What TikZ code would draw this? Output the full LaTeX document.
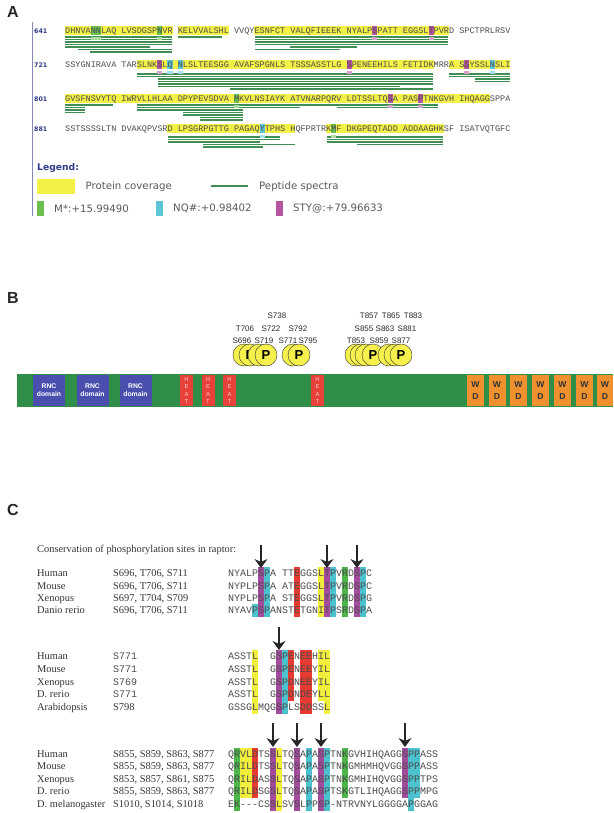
\documentclass[tikz,border=0pt]{standalone}
\usepackage{fontspec}
\setmainfont{Liberation Serif}
\setmonofont{Liberation Mono}
\newfontfamily\verdfont{DejaVu Sans}
\newfontfamily\arialfont{Liberation Sans}
\usetikzlibrary{arrows.meta,positioning}
\definecolor{ccov}{HTML}{F3F047}
\definecolor{cpep}{HTML}{3F8F55}
\definecolor{cmodM}{HTML}{6CBF4E}
\definecolor{cmodNQ}{HTML}{5CC6D6}
\definecolor{cmodS}{HTML}{B4559E}
\definecolor{clnum}{HTML}{2E3A87}
\definecolor{cbar}{HTML}{2F8E48}
\definecolor{crnc}{HTML}{4A4FAE}
\definecolor{cheat}{HTML}{E8413A}
\definecolor{cwd}{HTML}{F0912F}
\definecolor{cphos}{HTML}{F5F04C}
\definecolor{calS}{HTML}{A34C9E}
\definecolor{calP}{HTML}{4DC2CF}
\definecolor{calE}{HTML}{E53B30}
\definecolor{calL}{HTML}{F1EE3C}
\definecolor{calK}{HTML}{4DB54A}
\tikzset{
  panel/.style={font=\arialfont\bfseries\fontsize{16}{16}\selectfont, anchor=west, inner sep=0pt, text=black!85},
  seqrow/.style={font=\ttfamily\fontsize{8.53}{10}\selectfont, text=black!70, anchor=base west, inner sep=0pt},
  lnum/.style={font=\verdfont\bfseries\fontsize{6.3}{7}\selectfont, text=clnum, anchor=base west, inner sep=0pt},
  pepline/.style={cpep, line width=1.5pt},
  legtxt/.style={font=\verdfont\fontsize{10.2}{12}\selectfont, text=black!65, anchor=west, inner sep=0pt},
  legbox/.style={inner sep=0pt, minimum width=7pt, minimum height=15pt},
  dombox/.style={inner sep=0pt, minimum height=31pt, align=center},
  rncbox/.style={dombox, fill=crnc, text=white, minimum width=32pt, font=\arialfont\bfseries\fontsize{6.8}{8}\selectfont},
  heatbox/.style={dombox, fill=cheat, text=white!80!red, minimum width=13pt, font=\arialfont\fontsize{5.8}{7.6}\selectfont},
  wdbox/.style={dombox, fill=cwd, text=black!80, minimum width=17pt, font=\arialfont\bfseries\fontsize{8.6}{12}\selectfont},
  phos/.style={circle, fill=cphos, draw=black!80, line width=0.4pt, minimum size=22pt, inner sep=0pt, font=\arialfont\bfseries\fontsize{13}{13}\selectfont},
  stem/.style={draw=black!55, line width=0.4pt, double=white, double distance=1.3pt},
  site/.style={font=\arialfont\fontsize{8}{9}\selectfont, text=black!85, inner sep=0pt},
  spc/.style={font=\fontsize{10.4}{12}\selectfont, text=black!80, anchor=base west, inner sep=0pt},
  alnseq/.style={font=\ttfamily\fontsize{10}{12}\selectfont, text=black!70, anchor=base west, inner sep=0pt},
  downarr/.style={-{Stealth[length=9pt, width=13pt, inset=3pt]}, line width=1.3pt, black!85},
}
\begin{document}
\begin{tikzpicture}[x=1pt,y=-1pt]
\useasboundingbox (0,0) rectangle (613,813);

% ---------- panel A: coverage map ----------
\node[panel] (labA) at (7,12) {A};
\draw[clnum!60, line width=0.6pt] (32,22) -- (32,216);

% protein coverage
\foreach \y/\pa/\pb in {34/0/20, 34/22/31, 34/37/74, 68/14/71, 68/75/86,
                        102/0/82, 132/20/44, 132/51/73}
  \fill[ccov] ({65+\pa*5.12},{\y-7.5}) rectangle ({65+(\pb+1)*5.12},{\y+1.5});
% modified residues
\foreach \y/\p/\c in {34/5/cmodM, 34/6/cmodM, 34/18/cmodM, 34/60/cmodS, 34/71/cmodS,
                      68/18/cmodS, 68/20/cmodNQ, 68/22/cmodNQ, 68/55/cmodS, 68/78/cmodS, 68/83/cmodNQ,
                      102/33/cmodM, 102/63/cmodS, 102/69/cmodS, 132/38/cmodNQ, 132/52/cmodM}
  \fill[\c] ({65+\p*5.12},{\y-7.5}) rectangle ({65+(\p+1)*5.12},{\y+1.5});

% peptide spectra
\foreach \xa/\xb/\y in {65/172/37, 65/172/39.5, 65/172/42, 65/172/44.5, 65/150/47, 78/172/49.5,
    90/172/52, 178/222/37, 255/448/37, 255/448/39.5, 255/448/42, 255/448/44.5,
    290/357/47, 255/340/49.5,
    137/433/74, 137/433/76.5, 158/433/79, 158/433/81.5, 158/433/84, 158/400/86.5,
    230/433/89, 449/510/74, 449/510/76.5, 475/510/79, 475/510/81.5,
    65/85/105, 65/85/107.5, 65/85/110, 65/85/112.5, 85/113/105, 137/300/105,
    137/300/107.5, 137/243/110, 183/243/112.5, 183/243/115, 200/243/117.5,
    200/243/120, 300/438/105, 337/438/107.5,
    168/280/137, 168/280/139.5, 168/260/142, 203/295/144.5, 203/263/147,
    327/443/137, 327/443/139.5, 327/443/142, 357/443/144.5}
  \draw[pepline] (\xa,\y) -- (\xb,\y);
\foreach \y/\p/\c in {34/5/cmodM, 34/6/cmodM, 34/18/cmodM, 34/60/cmodS, 34/71/cmodS,
                      68/18/cmodS, 68/20/cmodNQ, 68/22/cmodNQ, 68/55/cmodS, 68/78/cmodS, 68/83/cmodNQ,
                      102/33/cmodM, 102/63/cmodS, 102/69/cmodS, 132/38/cmodNQ, 132/52/cmodM}
  \fill[\c!55] ({65+\p*5.12},{\y+3.5}) rectangle ({65+(\p+1)*5.12},{\y+6});

\node[lnum] (n641) at (34,34) {641};
\node[seqrow] (s641) at (65,34) {DHNVANNLAQ LVSDGSPNVR KELVVALSHL VVQYESNFCT VALQFIEEEK NYALPSPATT EGGSLTPVRD SPCTPRLRSV};
\node[lnum] (n721) at (34,68) {721};
\node[seqrow] (s721) at (65,68) {SSYGNIRAVA TARSLNKSLQ NLSLTEESGG AVAFSPGNLS TSSSASSTLG SPENEEHILS FETIDKMRRA SSYSSLNSLI};
\node[lnum] (n801) at (34,102) {801};
\node[seqrow] (s801) at (65,102) {GVSFNSVYTQ IWRVLLHLAA DPYPEVSDVA MKVLNSIAYK ATVNARPQRV LDTSSLTQSA PASPTNKGVH IHQAGGSPPA};
\node[lnum] (n881) at (34,132) {881};
\node[seqrow] (s881) at (65,132) {SSTSSSSLTN DVAKQPVSRD LPSGRPGTTG PAGAQYTPHS HQFPRTRKMF DKGPEQTADD ADDAAGHKSF ISATVQTGFC};

% legend
\node[font=\verdfont\bfseries\fontsize{9.2}{10}\selectfont, text=clnum, anchor=west, inner sep=0pt] (legend) at (37,168) {Legend:};
\node[fill=ccov, inner sep=0pt, minimum width=38pt, minimum height=15pt, anchor=west] (kcov) at (37,186.5) {};
\node[legtxt, right=10pt of kcov] (tcov) {Protein coverage};
\draw[pepline, line width=2.3pt] (211,186) coordinate (kpa) -- (248,186) coordinate (kpb);
\node[legtxt] (tpep) at (259,186.5) {Peptide spectra};
\node[legbox, fill=cmodM, anchor=west] (kM) at (37,208.5) {};
\node[legtxt] (tM) at (54,208.5) {M*:+15.99490};
\node[legbox, fill=cmodNQ, anchor=west] (kNQ) at (156,208.5) {};
\node[legtxt] (tNQ) at (173,208.5) {NQ\#:+0.98402};
\node[legbox, fill=cmodS, anchor=west] (kS) at (276,208.5) {};
\node[legtxt] (tS) at (293,208.5) {STY@:+79.96633};

% ---------- panel B: domain structure ----------
\node[panel] (labB) at (7,298) {B};
\node[fill=cbar, inner sep=0pt, minimum width=596pt, minimum height=33pt] (bar) at (315,390.5) {};

\foreach \x [count=\i] in {246, 250, 261, 266, 294, 299, 359, 363, 369, 374, 391, 396, 401}
  \coordinate (st\i) at (\x,365);
\foreach \i in {1,...,13}
  \draw[stem] (st\i) -- (st\i |- bar.north);

\node[phos] (p1) at (244,355) {};
\node[phos] (p2) at (250,355) {P};
\node[phos] (p3) at (259,355) {};
\node[phos] (p4) at (266,355) {P};
\node[phos] (p5) at (293,355) {};
\node[phos] (p6) at (299,355) {P};
\node[phos] (p7) at (356,355) {};
\node[phos] (p8) at (361,355) {};
\node[phos] (p9) at (366,355) {};
\node[phos] (p10) at (373,355) {P};
\node[phos] (p11) at (389,355) {};
\node[phos] (p12) at (395,355) {};
\node[phos] (p13) at (401,355) {P};

\foreach \x/\y/\t in {277/316/S738, 245/328.5/T706, 271/328.5/S722, 298/328.5/S792,
    242/340.5/S696, 264/340.5/S719, 288/340.5/S771, 308/340.5/S795,
    369/316/T857, 391/316/T865, 413/316/T883, 364/328.5/S855, 385/328.5/S863, 407/328.5/S881,
    356/340.5/T853, 379/340.5/S859, 401/340.5/S877}
  \node[site] (lab\t) at (\x,\y) {\t};

\node[rncbox] (rnc1) at (49,390.5) {RNC\\domain};
\node[rncbox] (rnc2) at (92.5,390.5) {RNC\\domain};
\node[rncbox] (rnc3) at (135.5,390.5) {RNC\\domain};
\foreach \x [count=\i] in {186.5, 208, 229.5, 317.5}
  \node[heatbox] (heat\i) at (\x,390.5) {H\\E\\A\\T};
\foreach \x [count=\i] in {475.5, 497, 518.5, 540.5, 562.5, 584.5}
  \node[wdbox] (wd\i) at (\x,390.5) {W\\D};
\node[wdbox, minimum width=16pt] (wd7) at (605,390.5) {W\\D};

% ---------- panel C: conservation ----------
\node[panel] (labC) at (7,510) {C};
\node[spc] (title) at (37,552) {Conservation of phosphorylation sites in raptor:};

% column shading (x of column k = 228 + (k-1)*6)
\foreach \k/\ya/\yb/\c in {6/566.5/616.5/calS, 7/566.5/616.5/calP, 12/566.5/616.5/calE,
    16/566.5/616.5/calL, 17/566.5/616.5/calS, 18/566.5/616.5/calP, 20/566.5/616.5/calK,
    22/566.5/616.5/calS, 23/566.5/616.5/calP, 5/604/616.5/calP,
    5/649.5/713.5/calL, 9/649.5/713.5/calS, 10/649.5/713.5/calP, 11/649.5/700.5/calE,
    13/649.5/713.5/calE, 14/649.5/713.5/calE, 16/649.5/700.5/calL, 17/649.5/713.5/calL,
    2/747.5/810.5/calK, 3/747.5/797.5/calL, 4/747.5/797.5/calL, 5/747.5/797.5/calE,
    8/747.5/810.5/calS, 9/747.5/810.5/calL, 12/747.5/810.5/calS, 14/747.5/810.5/calP,
    16/747.5/810.5/calS, 17/747.5/810.5/calP, 20/747.5/797.5/calK, 30/747.5/797.5/calS,
    31/747.5/810.5/calP, 32/747.5/797.5/calP}
  \fill[\c] ({228+(\k-1)*6},\ya) rectangle ({228+\k*6},\yb);

\foreach \k/\ya/\yb in {6/545/568, 17/545/568, 22/545/568, 9/627/650,
    8/723/747, 12/723/747, 16/723/747, 30/723/747}
  \draw[downarr] ({228+(\k-0.5)*6},\ya) -- ({228+(\k-0.5)*6},\yb);

% block 1
\foreach \y/\sp/\st/\sq in {576.5/Human/{S696, T706, S711}/{NYALPSPA TTEGGSLTPVRDSPC},
    589/Mouse/{S696, T706, S711}/{NYPLPSPA ATEGGSLTPVRDSPC},
    601.5/Xenopus/{S697, T704, S709}/{NYPLPSPA STEGGSLTPVRDSPG},
    613.5/Danio rerio/{S696, T706, S711}/{NYAVPSPANSTETGNITPSRDSPA}}
{
  \node[spc] (sp\y) at (37,\y) {\sp};
  \node[spc] (st\y) at (113,\y) {\st};
  \node[alnseq] (sq\y) at (228,\y) {\sq};
}
% block 2
\foreach \y/\sp/\st/\sq in {659.5/Human/S771/{ASSTL\phantom{--}GSPENEEHIL},
    672/Mouse/S771/{ASSTL\phantom{--}GSPENEEYIL},
    685/Xenopus/S769/{ASSTL\phantom{--}GSPDNEEYIL},
    697.5/D. rerio/S771/{ASSTL\phantom{--}GSPDNDEYLL}}
{
  \node[spc] (sp\y) at (37,\y) {\sp};
  \node[alnseq] (st\y) at (113,\y) {\st};
  \node[alnseq] (sq\y) at (228,\y) {\sq};
}
\node[spc] (spara) at (37,710) {Arabidopsis};
\node[spc] (stara) at (113,710) {S798};
\node[alnseq] (sqara) at (228,710) {GSSGLMQGSPLSDDSSL};
% block 3
\foreach \y/\sp/\st/\sq in {757.5/Human/{S855, S859, S863, S877}/{QRVLDTSSLTQSAPASPTNKGVHIHQAGGSPPASS},
    769.5/Mouse/{S855, S859, S863, S877}/{QRILDTSSLTQSAPASPTNKGMHMHQVGGSPPASS},
    782.5/Xenopus/{S853, S857, S861, S875}/{QRILDASSLTQSAPASPTNKGMHIHQVGGSPPTPS},
    794.5/D. rerio/{S855, S859, S863, S877}/{QRILDSGSLTQSAPASPTSKGTLIHQAGGSPPMPG},
    807/D. melanogaster/{S1010, S1014, S1018}/{EK---CSSLSVSLPPSP-NTRVNYLGGGGAPGGAG}}
{
  \node[spc] (sp\y) at (37,\y) {\sp};
  \node[spc] (st\y) at (113,\y) {\st};
  \node[alnseq] (sq\y) at (228,\y) {\sq};
}
\end{tikzpicture}
\end{document}
